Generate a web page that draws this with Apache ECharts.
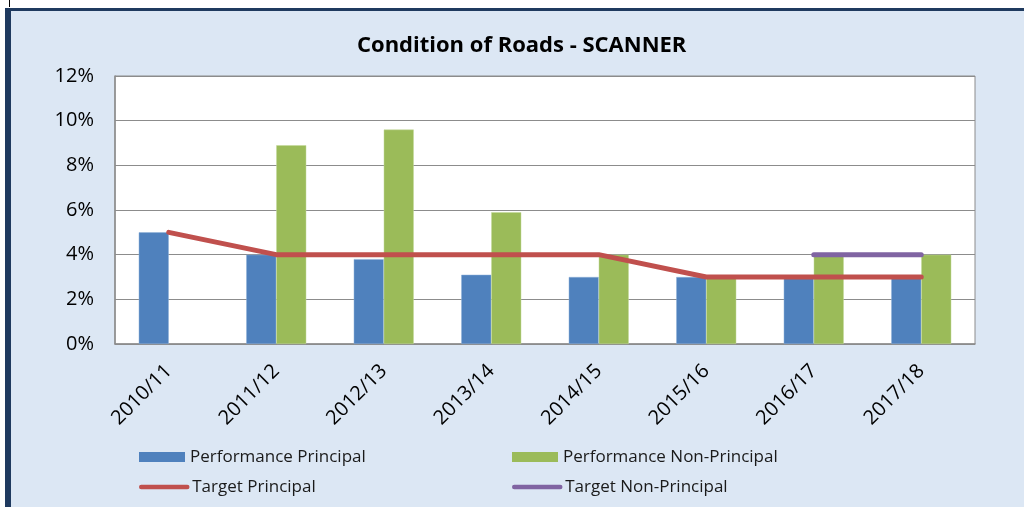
<!DOCTYPE html>
<html>
<head>
<meta charset="utf-8">
<script src="https://cdn.jsdelivr.net/npm/echarts@6/dist/echarts.min.js"></script>
<style>
  html, body { margin: 0; padding: 0; background: #fff; }
  #chart { width: 1024px; height: 507px; }
</style>
</head>
<body>
<div id="chart"></div>
<script>
const years = ["2010/11", "2011/12", "2012/13", "2013/14", "2014/15", "2015/16", "2016/17", "2017/18"];
const perfPrincipal = [5.0, 4.0, 3.8, 3.1, 3.0, 3.0, 3.0, 3.0];
const perfNonPrincipal = [null, 8.9, 9.6, 5.9, 4.0, 3.0, 4.0, 4.0];
const targetPrincipal = [5, 4, 4, 4, 4, 3, 3, 3];
const targetNonPrincipal = [null, null, null, null, null, null, 4, 4];

const font = "Open Sans";
const chart = echarts.init(document.getElementById("chart"));

// one legend per entry so each sits where it does in the original
const legendText = { fontFamily: font, fontSize: 17, lineHeight: 20, color: "#1a1a1a" };
const hideDot = { color: "rgba(0,0,0,0)", borderWidth: 0 };
const legendItem = (name, left, top, isLine) => ({
  data: [isLine ? { name: name, itemStyle: hideDot } : { name: name, icon: "rect", itemStyle: { borderWidth: 0 } }],
  left: left,
  top: top,
  itemWidth: 46,
  itemHeight: 10,
  itemGap: 0,
  padding: 0,
  lineStyle: { width: 4.5, cap: "round" },
  textStyle: legendText
});

const option = {
  backgroundColor: "#dce7f4",
  textStyle: { fontFamily: font },
  graphic: [
    // dark frame on top and left
    { type: "rect", shape: { x: 0, y: 0, width: 1024, height: 8 }, style: { fill: "#fff" }, silent: true },
    { type: "rect", shape: { x: 0, y: 0, width: 5, height: 507 }, style: { fill: "#fff" }, silent: true },
    { type: "rect", shape: { x: 5, y: 8, width: 1019, height: 3 }, style: { fill: "#1f3a5f" }, silent: true },
    { type: "rect", shape: { x: 5, y: 8, width: 6, height: 499 }, style: { fill: "#1f3a5f" }, silent: true },
    { type: "rect", shape: { x: 9, y: 0, width: 1, height: 7 }, style: { fill: "#000" }, silent: true }
  ],
  title: {
    text: "Condition of Roads - SCANNER",
    left: 352,
    top: 30,
    textStyle: { fontFamily: font, fontSize: 22, fontWeight: "bold", color: "#000" }
  },
  legend: [
    legendItem("Performance Principal", 139, 447, false),
    legendItem("Target Principal", 139, 477, true),
    legendItem("Performance Non-Principal", 512, 447, false),
    legendItem("Target Non-Principal", 512, 477, true)
  ],
  grid: {
    left: 115,
    right: 49,
    top: 76,
    bottom: 163,
    show: true,
    backgroundColor: "#fff",
    borderColor: "#8c8c8c",
    borderWidth: 1
  },
  xAxis: {
    type: "category",
    data: years,
    axisLine: { lineStyle: { color: "#8c8c8c", width: 1.5 } },
    axisTick: { show: false },
    axisLabel: {
      rotate: 45,
      margin: 24,
      fontFamily: font,
      fontSize: 20,
      color: "#000"
    }
  },
  yAxis: {
    type: "value",
    min: 0,
    max: 12,
    interval: 2,
    axisLine: { show: true, lineStyle: { color: "#8c8c8c", width: 1.5 } },
    axisTick: { show: false },
    splitLine: { lineStyle: { color: "#8c8c8c", width: 1 } },
    axisLabel: {
      formatter: "{value}%",
      margin: 21,
      fontFamily: font,
      fontSize: 20,
      color: "#000"
    }
  },
  series: [
    {
      name: "Performance Principal",
      type: "bar",
      data: perfPrincipal,
      barWidth: 30,
      barGap: "0%",
      itemStyle: { color: "#4f81bd", borderColor: "#8fb0d8", borderWidth: 0.5 }
    },
    {
      name: "Performance Non-Principal",
      type: "bar",
      data: perfNonPrincipal,
      barWidth: 30,
      barGap: "0%",
      itemStyle: { color: "#9bbb59", borderColor: "#c3d89b", borderWidth: 0.5 }
    },
    {
      name: "Target Principal",
      type: "line",
      data: targetPrincipal,
      symbol: "none",
      z: 5,
      lineStyle: { color: "#c0504d", width: 5, cap: "round", join: "round" },
      itemStyle: { color: "#c0504d" }
    },
    {
      name: "Target Non-Principal",
      type: "line",
      data: targetNonPrincipal,
      symbol: "none",
      z: 5,
      lineStyle: { color: "#8064a2", width: 5, cap: "round", join: "round" },
      itemStyle: { color: "#8064a2" }
    }
  ]
};

chart.setOption(option);
</script>
</body>
</html>
